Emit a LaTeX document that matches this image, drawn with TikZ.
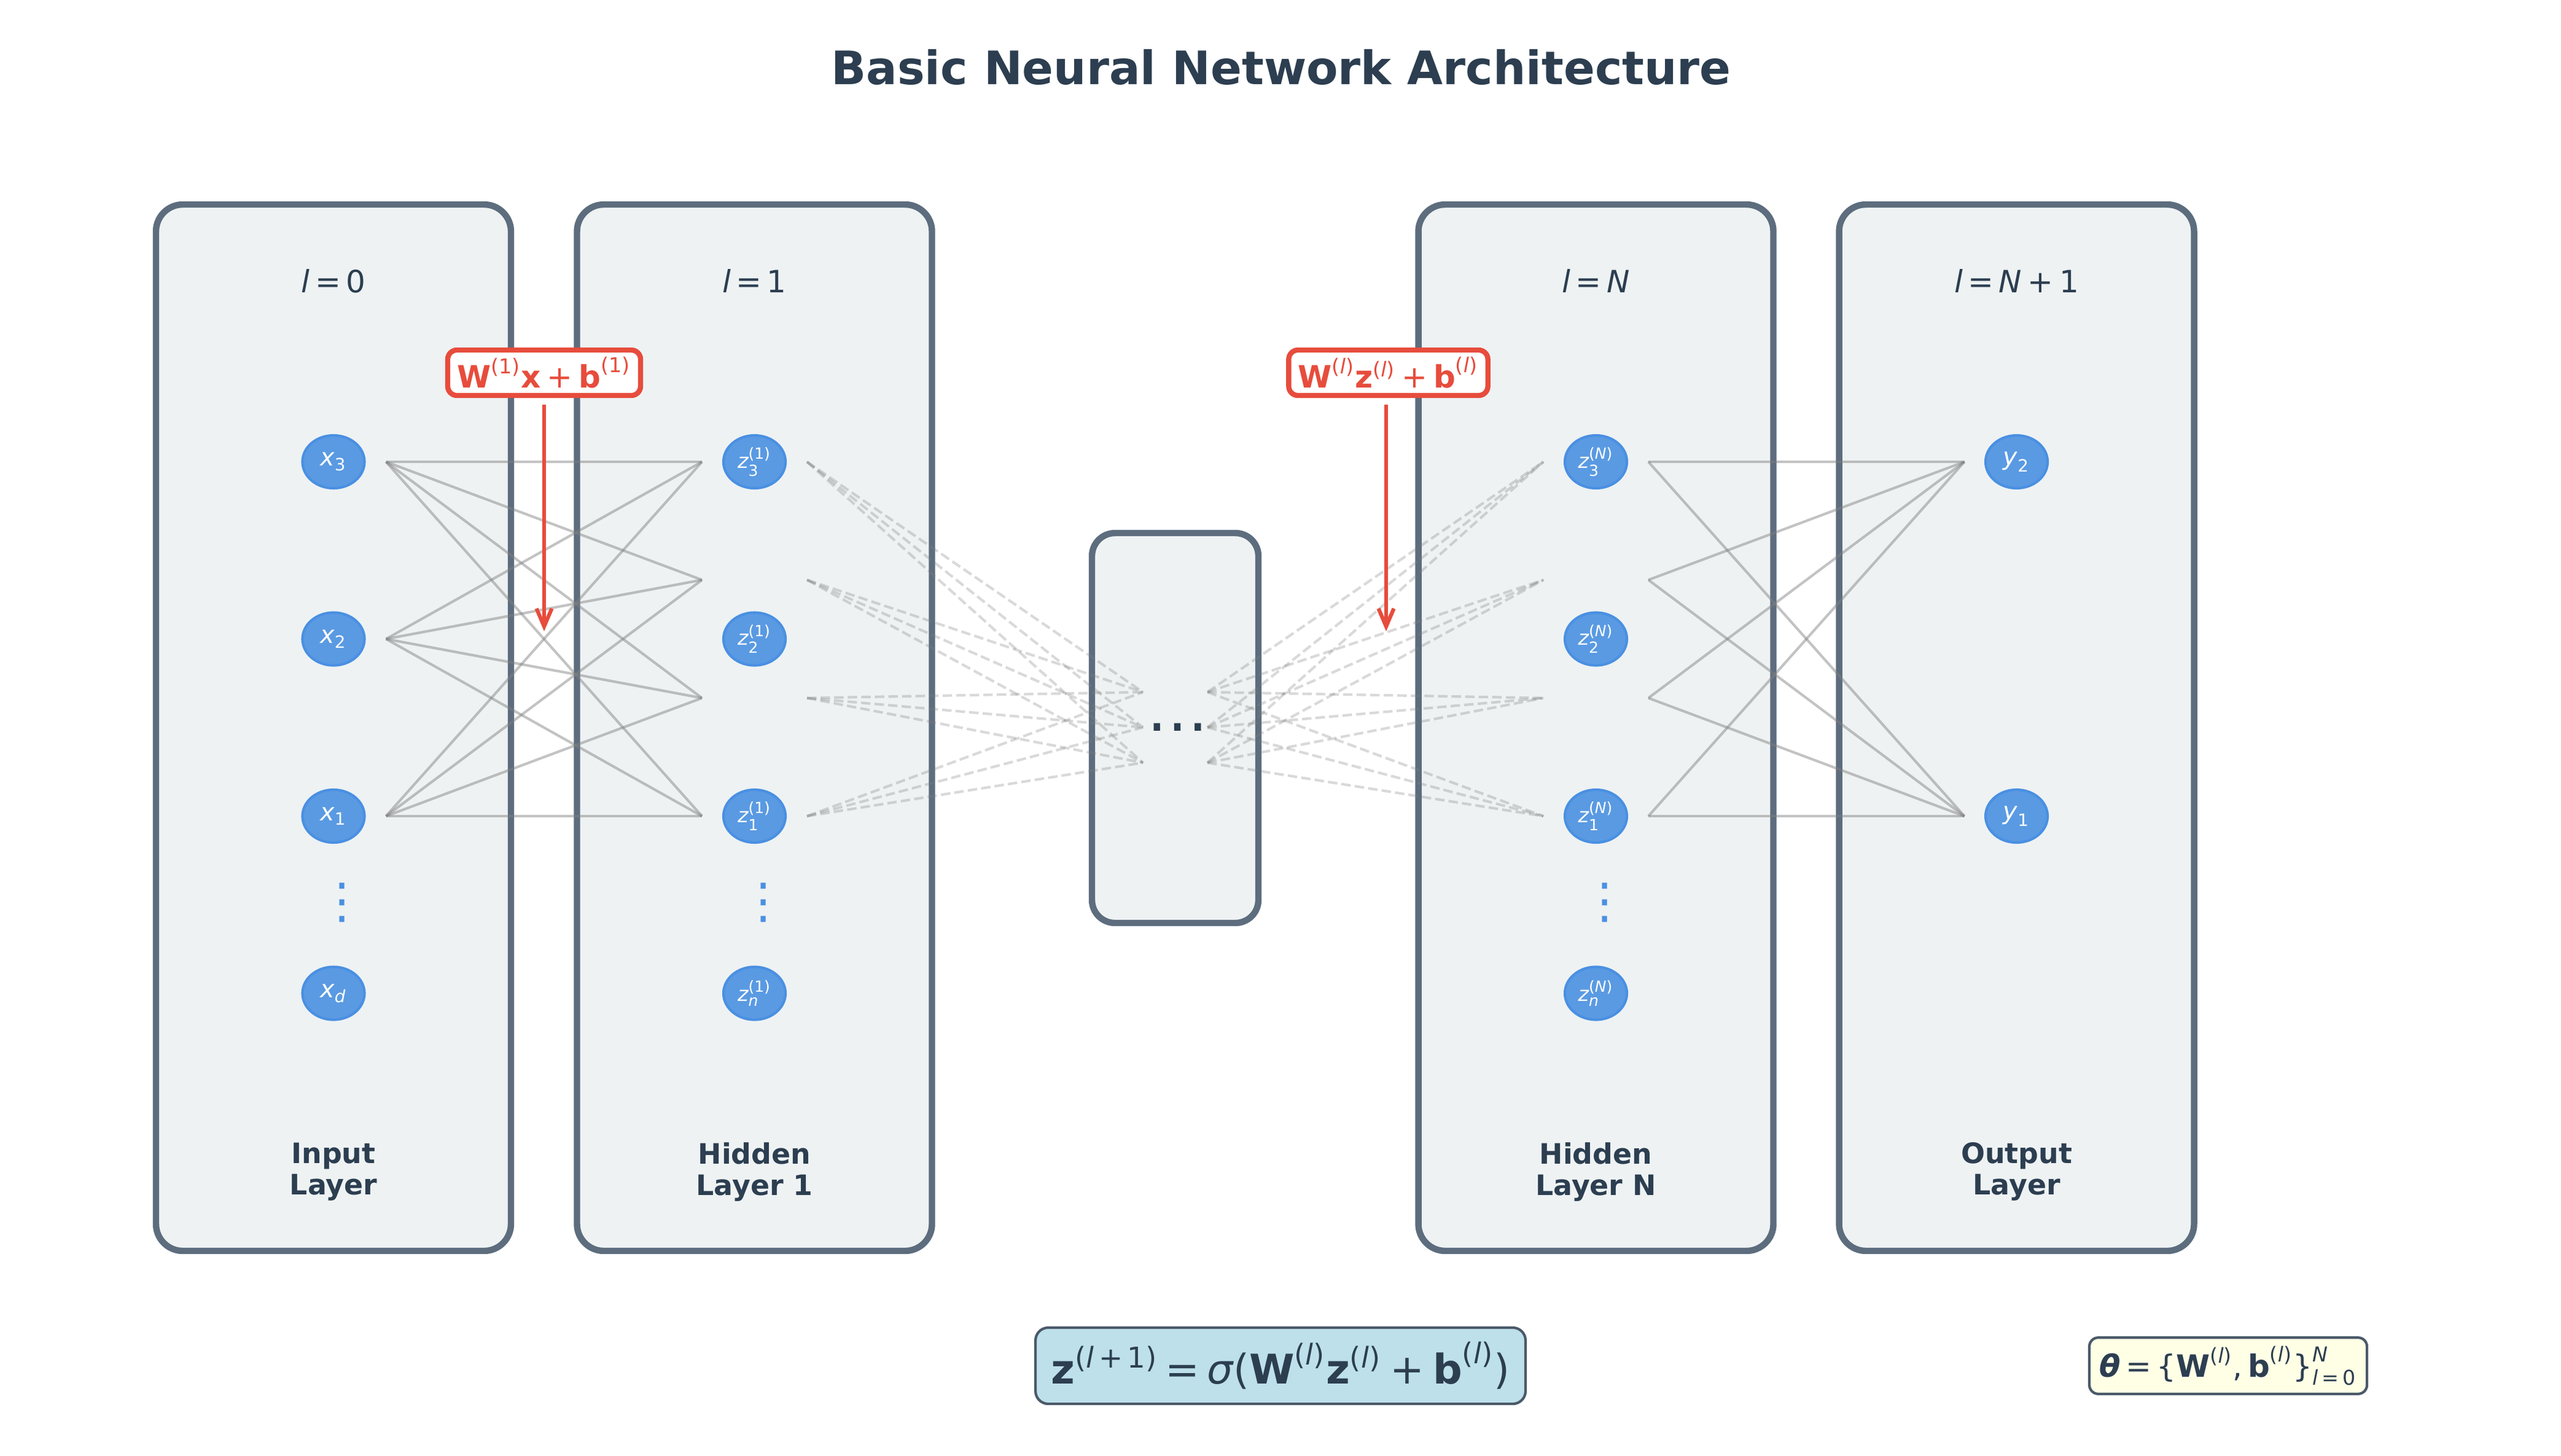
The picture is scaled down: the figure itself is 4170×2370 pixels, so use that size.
\documentclass[tikz,border=0pt]{standalone}
\usepackage{fontspec}
\usepackage{amsmath}
\setmainfont{DejaVu Sans}
\usetikzlibrary{shapes.geometric,arrows.meta}
\definecolor{boxfill}{HTML}{EEF2F3}
\definecolor{boxedge}{HTML}{5D6D7E}
\definecolor{titlec}{HTML}{2C3E50}
\definecolor{nodefill}{HTML}{5A9AE2}
\definecolor{nodeedge}{HTML}{4A90E2}
\definecolor{redc}{HTML}{E74C3C}
\definecolor{fboxfill}{HTML}{BDE0EB}
\definecolor{tboxfill}{HTML}{FFFFE6}
\definecolor{fboxedge}{HTML}{4B5A69}
\newcommand{\Mi}[1]{\textnormal{\itshape #1}}
\newcommand{\Mr}[1]{\textnormal{#1}}
\newcommand{\Mbf}[1]{\textnormal{\bfseries #1}}
\newcommand{\Mbi}[1]{\textnormal{\bfseries\itshape #1}}
\newcommand{\Mplus}{\mathbin{\Mr{+}}}
\newcommand{\Meq}{\mathrel{\Mr{=}}}
\newcommand{\Mpl}{\Mr{(}\Mi{l}\Mr{)}}
\thickmuskip=3mu
\medmuskip=3.5mu
\begin{document}
\begin{tikzpicture}[x=0.24pt,y=-0.24pt,
  layerbox/.style={draw=boxedge, fill=boxfill, line width=2.5pt, rounded corners=10.5pt,
    minimum width=138.72pt, minimum height=408.96pt, inner sep=0pt},
  midbox/.style={layerbox, minimum width=65.04pt, minimum height=152.4pt, rounded corners=9pt},
  neuron/.style={ellipse, draw=nodeedge, fill=nodefill, line width=1pt,
    minimum width=24.24pt, minimum height=20.64pt, inner sep=0pt, text=white,
    font=\fontsize{9.5}{11}\selectfont},
  zneuron/.style={neuron, font=\fontsize{8}{9}\selectfont},
  conn/.style={draw=gray, draw opacity=0.47, line width=1pt},
  dconn/.style={draw=gray, draw opacity=0.3, line width=1pt, dash pattern=on 3.7pt off 1.6pt},
  vdotsstyle/.style={text=nodeedge, font=\fontsize{19}{23}\selectfont, inner sep=0pt},
  layertitle/.style={text=titlec, font=\fontsize{12}{14}\selectfont, anchor=base, inner sep=0pt},
  layername/.style={text=titlec, font=\fontsize{11}{12.24}\selectfont\bfseries, align=center,
    anchor=north, inner sep=0pt},
  redbox/.style={draw=redc, fill=white, line width=2pt, rounded corners=3.6pt, text=redc,
    font=\fontsize{12}{14}\selectfont\bfseries, inner xsep=3.7pt, inner ysep=0pt,
    minimum height=17.76pt},
  redarrow/.style={draw=redc, line width=1.5pt, -{Straight Barb[length=7pt,width=6pt]},
    shorten <=2.6pt},
  fbox/.style={draw=fboxedge, line width=1pt, text=titlec, inner sep=0pt}
]
\useasboundingbox (0,0) rectangle (4170,2370);
% title
\node[anchor=base, text=titlec, font=\fontsize{18}{21.6}\selectfont\bfseries] (title)
  at (2086,137) {Basic Neural Network Architecture};
% layer boxes
\node[layerbox] (L0) at (543,1185) {};
\node[layerbox] (L1) at (1228.5,1185) {};
\node[midbox] (LM) at (1913.5,1185.5) {};
\node[layerbox] (LN) at (2598.5,1185) {};
\node[layerbox] (LO) at (3283.5,1185) {};
% layer titles
\node[layertitle] (t0) at (543,476) {$\Mi{l}\Meq\Mr{0}$};
\node[layertitle] (t1) at (1228.5,476) {$\Mi{l}\Meq\Mr{1}$};
\node[layertitle] (tN) at (2598.5,476) {$\Mi{l}\Meq\Mi{N}$};
\node[layertitle] (tO) at (3283.5,476) {$\Mi{l}\Meq\Mi{N}\Mplus\Mr{1}$};
% layer names
\node[layername] (n0) at (543,1860) {Input\\Layer};
\node[layername] (n1) at (1228.5,1860) {Hidden\\Layer 1};
\node[layername] (nN) at (2598.5,1860) {Hidden\\Layer N};
\node[layername] (nO) at (3283.5,1860) {Output\\Layer};
% connection end points
\foreach \i/\y in {1/752,2/1040.5,3/1329} {\coordinate (xo\i) at (628.5,\y);}
\foreach \i/\y in {1/752,2/944.33,3/1136.67,4/1329} {
  \coordinate (hAi\i) at (1143,\y);
  \coordinate (hAo\i) at (1314,\y);
  \coordinate (hBi\i) at (2513,\y);
  \coordinate (hBo\i) at (2684,\y);
}
\foreach \i/\y in {1/1127,2/1184.5,3/1242} {
  \coordinate (mL\i) at (1861,\y);
  \coordinate (mR\i) at (1966,\y);
}
\coordinate (yi1) at (3198.5,752);
\coordinate (yi2) at (3198.5,1329);
% connections
\foreach \a in {1,2,3} {\foreach \b in {1,2,3,4} {\draw[conn] (xo\a) -- (hAi\b);}}
\foreach \a in {1,2,3,4} {\foreach \b in {1,2,3} {\draw[dconn] (hAo\a) -- (mL\b);}}
\foreach \a in {1,2,3} {\foreach \b in {1,2,3,4} {\draw[dconn] (mR\a) -- (hBi\b);}}
\foreach \a in {1,2,3,4} {\foreach \b in {1,2} {\draw[conn] (hBo\a) -- (yi\b);}}
% neurons: input
\node[neuron] (x3) at (543,752) {$\Mi{x}_{\Mr{3}}$};
\node[neuron] (x2) at (543,1040.5) {$\Mi{x}_{\Mr{2}}$};
\node[neuron] (x1) at (543,1329) {$\Mi{x}_{\Mr{1}}$};
\node[neuron] (xd) at (543,1617.5) {$\Mi{x}_{\Mi{d}}$};
% hidden 1
\node[zneuron] (a3) at (1228.5,752) {$\Mi{z}^{\Mr{(1)}}_{\Mr{3}}$};
\node[zneuron] (a2) at (1228.5,1040.5) {$\Mi{z}^{\Mr{(1)}}_{\Mr{2}}$};
\node[zneuron] (a1) at (1228.5,1329) {$\Mi{z}^{\Mr{(1)}}_{\Mr{1}}$};
\node[zneuron] (an) at (1228.5,1617.5) {$\Mi{z}^{\Mr{(1)}}_{\Mi{n}}$};
% hidden N
\node[zneuron] (b3) at (2598.5,752) {$\Mi{z}^{\Mr{(}\Mi{N}\Mr{)}}_{\Mr{3}}$};
\node[zneuron] (b2) at (2598.5,1040.5) {$\Mi{z}^{\Mr{(}\Mi{N}\Mr{)}}_{\Mr{2}}$};
\node[zneuron] (b1) at (2598.5,1329) {$\Mi{z}^{\Mr{(}\Mi{N}\Mr{)}}_{\Mr{1}}$};
\node[zneuron] (bn) at (2598.5,1617.5) {$\Mi{z}^{\Mr{(}\Mi{N}\Mr{)}}_{\Mi{n}}$};
% output
\node[neuron] (y2) at (3283.5,752) {$\Mi{y}_{\Mr{2}}$};
\node[neuron] (y1) at (3283.5,1329) {$\Mi{y}_{\Mr{1}}$};
% vertical dots
\node[vdotsstyle] (v0) at (557.5,1470) {⋮};
\node[vdotsstyle] (v1) at (1243,1470) {⋮};
\node[vdotsstyle] (vN) at (2613,1470) {⋮};
% middle dots
\node[text=titlec, font=\fontsize{24}{28}\selectfont, inner sep=0pt] (mdots) at (1917.5,1184) {…};
% red annotations
\node[redbox] (R1) at (886,607) {$\Mbf{W}^{\Mr{(1)}}\Mbf{x}\Mplus\Mbf{b}^{\Mr{(1)}}$};
\node[redbox] (R2) at (2260.5,607) {$\Mbf{W}^{\Mpl}\Mbf{z}^{\Mpl}\Mplus\Mbf{b}^{\Mpl}$};
\coordinate (A1) at (886,1028);
\coordinate (A2) at (2257,1028);
\draw[redarrow] (R1.south -| A1) -- (A1);
\draw[redarrow] (R2.south -| A2) -- (A2);
% formula boxes
\node[fbox, fill=fboxfill, rounded corners=5pt, minimum width=191.5pt, minimum height=29.8pt,
  font=\fontsize{16}{19}\selectfont] (F) at (2085,2224)
  {$\Mbf{z}^{\Mr{(}\Mi{l}\,\Mr{+}\,\Mr{1}\Mr{)}}\Meq\Mi{σ}\Mr{(}\Mbf{W}^{\Mpl}\Mbf{z}^{\Mpl}\Mplus\Mbf{b}^{\Mpl}\Mr{)}$};
\node[fbox, fill=tboxfill, rounded corners=3.5pt, minimum width=108.5pt, minimum height=22pt,
  font=\fontsize{12}{14}\selectfont] (T) at (3628,2224)
  {$\Mbi{θ}\Meq\Mr{\{}\Mbf{W}^{\Mpl}\Mr{,}\,\Mbf{b}^{\Mpl}\Mr{\}}^{\Mi{N}}_{\Mi{l}\,\Mr{=}\,\Mr{0}}$};
\end{tikzpicture}
\end{document}
